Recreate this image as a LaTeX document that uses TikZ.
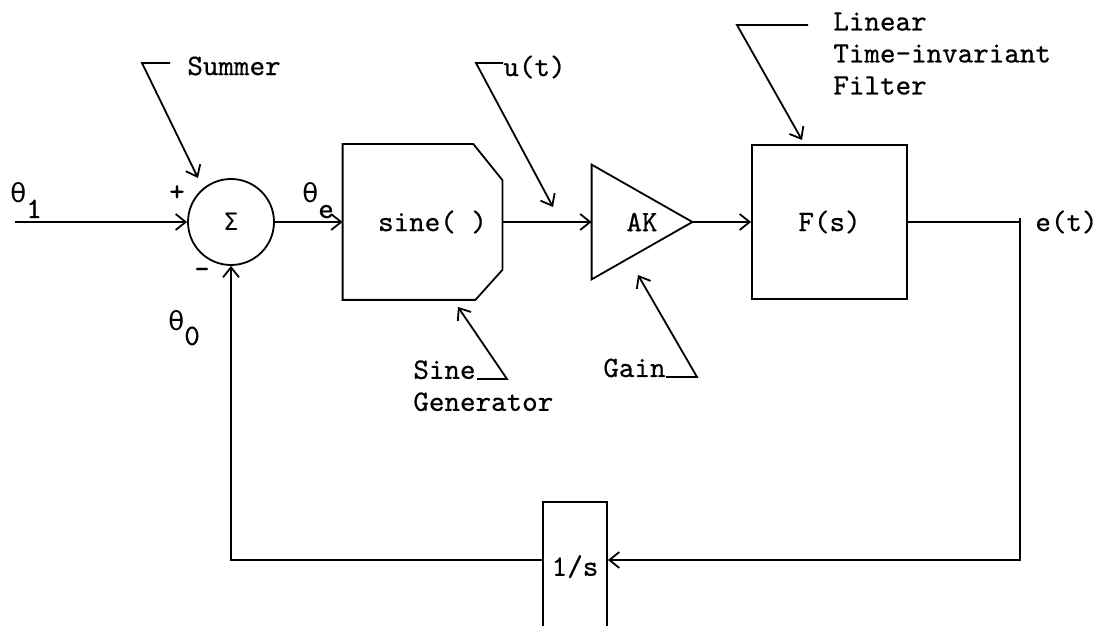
\documentclass[tikz,border=0pt]{standalone}
\usepackage{fontspec}
\setmonofont{lmmono10-regular.otf}[FakeBold=0.6]
\newfontfamily\grk{DejaVu Sans}
\usetikzlibrary{arrows.meta,calc}

\tikzstyle{block}=[rectangle,draw,line width=0.9pt,inner sep=0pt]
\tikzstyle{shell}=[rectangle,inner sep=0pt]
\tikzstyle{tag}=[inner sep=0pt]
\tikzstyle{line}=[draw,line width=0.9pt]
\tikzstyle{arrow}=[line,-{Straight Barb[length=5pt,width=8pt]}]
\newcommand{\tsub}[2]{#1\raisebox{-7.5pt}{#2}}
\newcommand{\thet}{{\grk\fontsize{13}{15}\selectfont θ}}

\begin{document}
\begin{tikzpicture}[x=0.5pt,y=-0.5pt,every node/.style={font=\ttfamily\fontsize{14.8}{16}\selectfont}]
\useasboundingbox (0,0) rectangle (1100,626);

% forward path
\node [block,circle,minimum size=43pt] (sum) at (231,222) {{\grk\fontsize{12}{14}\selectfont Σ}};
\node [shell,minimum width=79.5pt,minimum height=77.5pt] (sine) at (422.5,222) {\hspace{10pt}sine( )};
\draw [line] (sine.north west) -- ($(sine.north east)+(-29,0)$) -- ($(sine.north east)+(0,36)$)
  -- ($(sine.south east)+(0,-30)$) -- ($(sine.south east)+(-27,0)$) -- (sine.south west) -- cycle;
\node [shell,minimum width=50pt,minimum height=57pt] (gain) at (642,222) {AK\hspace{8pt}};
\draw [line] (gain.north west) -- (gain.east) -- (gain.south west) -- cycle;
\node [block,minimum width=77.5pt,minimum height=77pt] (filt) at (829.5,222) {F(s)};
\node [block,minimum width=32pt,minimum height=69pt] (integ) at (575,571) {\raisebox{5.5pt}{1/s}};

% signal labels
\node [tag,anchor=base west] (thetai) at (10,203) {\tsub{\thet}{1}};
\node [tag] (plus) at (177,193) {+};
\node [tag] (minus) at (202,273) {-};
\node [tag,anchor=base west] (thetao) at (168,330) {\tsub{\thet}{0}};
\node [tag,anchor=base west] (thetae) at (302,203) {\tsub{\thet}{e}};
\node [tag,anchor=west] (ulbl) at (503,67) {u(t)};
\node [tag,anchor=west] (elbl) at (1035,222) {e(t)};

% block names
\node [tag,anchor=west] (summerlbl) at (187,66) {Summer};
\node [tag,anchor=north west,align=left] (sinelbl) at (413,360) {Sine\\Generator};
\node [tag,anchor=base west] (gainlbl) at (603,377) {Gain};
\node [tag,anchor=north west,align=left] (filtlbl) at (833,12) {Linear\\Time-invariant\\Filter};

% callouts
\coordinate (summerend) at (170,63);
\coordinate (summerbend) at (142,63);
\coordinate (summertip) at (198,178);
\coordinate (ubend) at (476,63);
\coordinate (utip) at (553,207);
\coordinate (sineul) at (477,379);
\coordinate (sinebend) at (507,379);
\coordinate (sinetip) at (458,307);
\coordinate (gainbend) at (697,377);
\coordinate (gaintip) at (638,275);
\coordinate (filtend) at (808,25);
\coordinate (filtbend) at (737,25);
\coordinate (filttip) at (802,140);
\draw [arrow] (summerend) -- (summerbend) -- (summertip);
\draw [arrow] (ulbl.west |- ubend) -- (ubend) -- (utip);
\draw [arrow] (sineul) -- (sinebend) -- (sinetip);
\draw [arrow] (gainlbl.base east) -- (gainbend) -- (gaintip);
\draw [arrow] (filtend) -- (filtbend) -- (filttip);

% signal lines
\coordinate (in) at (15,222);
\coordinate (eout) at (1020,222);
\coordinate (fbr) at (1020,560);
\draw [arrow] (in) -- (sum.west);
\draw [arrow] (sum.east) -- (sine.west);
\draw [arrow] (sine.east) -- (gain.west);
\draw [arrow] (gain.east) -- (filt.west);
\draw [line] (filt.east) -- (eout);
\draw [arrow] ([yshift=2pt]eout) -- (fbr) -- (fbr -| integ.east);
\draw [arrow] (integ.west |- fbr) -| (sum.south);
\end{tikzpicture}
\end{document}
